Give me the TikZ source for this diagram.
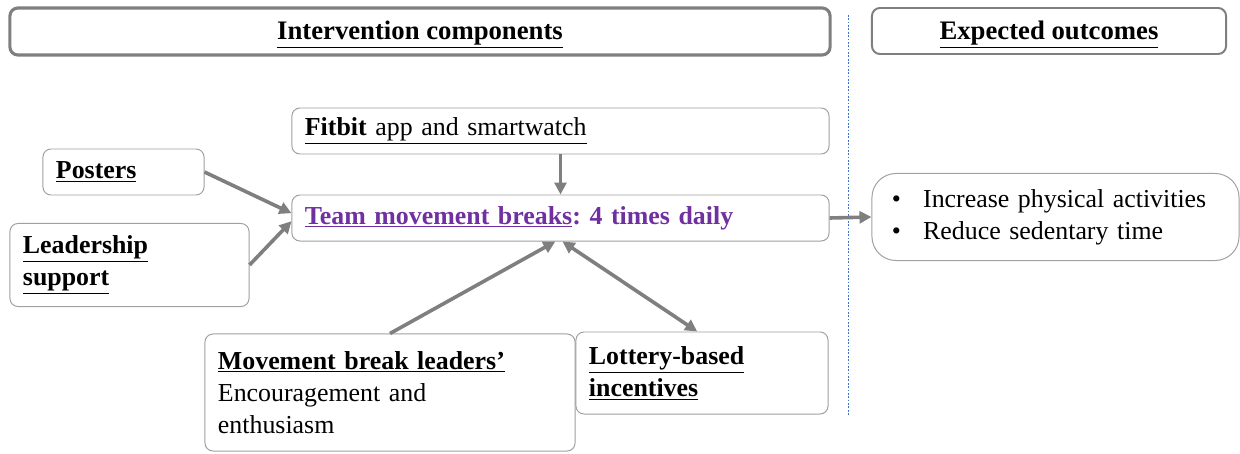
\documentclass[tikz,border=0pt]{standalone}
\usepackage{fontspec}
\setmainfont{Liberation Serif}
\usepackage{xcolor}
\usepackage{tikz}
\usetikzlibrary{arrows.meta}
\usetikzlibrary{calc}
\definecolor{C0}{HTML}{7F7F7F}
\definecolor{C1}{HTML}{7030A0}
\definecolor{C2}{HTML}{A0A0A0}
\definecolor{C3}{HTML}{4472C4}
\frenchspacing
\tikzset{
  box/.style={draw=C2, line width=0.7pt, rounded corners=0.2cm, align=left, inner xsep=0.325cm, inner ysep=0pt, font=\fontsize{18.4}{23}\selectfont},
  headbox/.style={draw=C0, rounded corners=0.2cm, align=center, inner sep=0pt, text height=0.55cm, text depth=0.13cm, font=\fontsize{19}{22}\selectfont\bfseries},
  link/.style={C0, line width=0.09cm, -{Triangle[length=0.3cm,width=0.3cm]}},
}

\begin{document}
\begin{tikzpicture}[x=0.025cm,y=-0.025cm]
\useasboundingbox (0,0) rectangle (1240,453);
\node[headbox, line width=2.2pt, minimum width=20.5cm, minimum height=1.175cm] (compHead) at (420,31.5) {\underline{Intervention components}};
\node[headbox, line width=1.4pt, minimum width=8.85cm, minimum height=1.15cm] (outHead) at (1049,31) {\underline{Expected outcomes}};
\coordinate (sepTop) at (848,15);
\coordinate (sepBot) at (848,415);
\draw[C3, dash pattern=on 1.2pt off 1.2pt, line width=0.7pt] (sepTop)--(sepBot);
\node[box, text width=12.775cm, minimum height=1.15cm] (fitbit) at (560.5,131) {\underline{\textbf{Fitbit} app and smartwatch}};
\node[box, text width=12.775cm, minimum height=1.15cm, text=C1] (team) at (560.5,218) {\textbf{\underline{Team movement breaks}: 4 times daily}};
\node[box, text width=3.375cm, minimum height=1.15cm] (posters) at (123.5,172) {\textbf{\underline{Posters}}};
\node[box, text width=5.325cm, minimum height=2.075cm] (leader) at (129.5,265) {\textbf{\underline{Leadership}}\\\textbf{\underline{support}}};
\node[box, text width=8.6cm, minimum height=2.925cm] (breakLead) at (390,392.5) {\textbf{\underline{Movement break leaders'}}\\Encouragement and\\enthusiasm};
\node[box, text width=5.65cm, minimum height=2.05cm] (lottery) at (702,373) {\textbf{\underline{Lottery-based}}\\\textbf{\underline{incentives}}};
\node[box, rounded corners=0.6cm, inner xsep=0.5cm, text width=8.175cm, minimum height=2.175cm] (outcome) at (1055.5,217) {\makebox[0.78cm][l]{\textbullet}Increase physical activities\\\makebox[0.78cm][l]{\textbullet}Reduce sedentary time};
\draw[link] (fitbit.south)--(team.north);
\draw[link] (posters.east)--([yshift=0.12cm]team.west);
\draw[link] (leader.east)--([yshift=-0.08cm]team.west);
\draw[link] (breakLead.north)--([xshift=-0.13cm]team.south);
\draw[link, {Triangle[length=0.3cm,width=0.3cm]}-{Triangle[length=0.3cm,width=0.3cm]}] ([xshift=0.05cm]team.south)--([xshift=-0.12cm]lottery.north);
\draw[link] (team.east)--(outcome.west);
\end{tikzpicture}
\end{document}
